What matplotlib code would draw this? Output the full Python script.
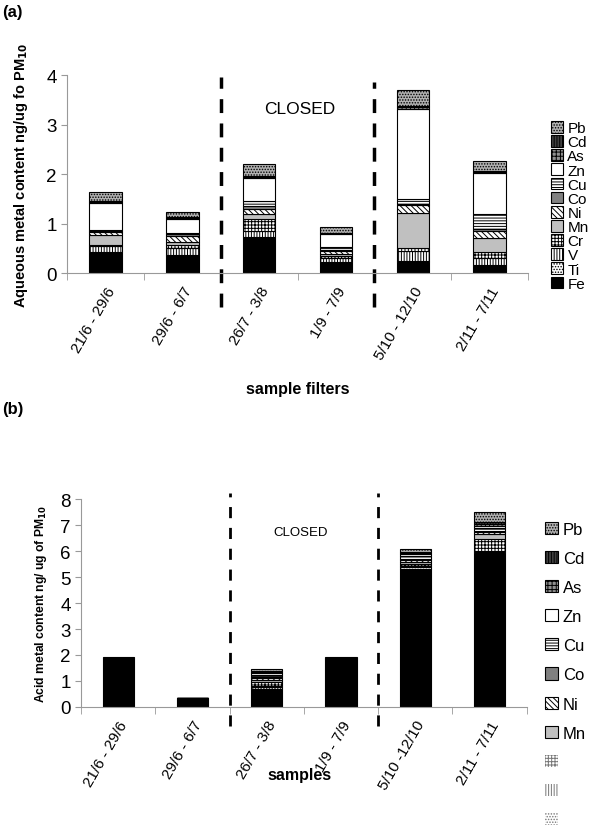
import matplotlib
matplotlib.use('Agg')
import matplotlib.pyplot as plt
from matplotlib.patches import Patch
import numpy as np

plt.rcParams['font.family'] = ['Liberation Sans', 'DejaVu Sans']
plt.rcParams['hatch.linewidth'] = 0.7

# sampling periods
samples = ['21/6 - 29/6', '29/6 - 6/7', '26/7 - 3/8', '1/9 - 7/9', '5/10 - 12/10', '2/11 - 7/11']
samples_b = ['21/6 - 29/6', '29/6 - 6/7', '26/7 - 3/8', '1/9 - 7/9', '5/10 -12/10', '2/11 - 7/11']
metals = ['Fe', 'Ti', 'V', 'Cr', 'Mn', 'Ni', 'Co', 'Cu', 'Zn', 'As', 'Cd', 'Pb']

# (a) aqueous content, ng/ug, one list per metal (bottom -> top of stack)
aq_Fe = [0.42, 0.36, 0.72, 0.22, 0.23, 0.15]
aq_Ti = [0.01, 0.01, 0.01, 0.01, 0.01, 0.01]
aq_V = [0.11, 0.13, 0.12, 0.07, 0.20, 0.15]
aq_Cr = [0.03, 0.07, 0.25, 0.05, 0.07, 0.12]
aq_Mn = [0.19, 0.06, 0.09, 0.03, 0.70, 0.27]
aq_Ni = [0.07, 0.12, 0.11, 0.06, 0.17, 0.15]
aq_Co = [0.02, 0.03, 0.06, 0.03, 0.02, 0.05]
aq_Cu = [0.03, 0.04, 0.09, 0.05, 0.09, 0.30]
aq_Zn = [0.54, 0.28, 0.48, 0.26, 1.83, 0.83]
aq_As = [0.02, 0.02, 0.02, 0.02, 0.03, 0.02]
aq_Cd = [0.02, 0.02, 0.02, 0.02, 0.02, 0.01]
aq_Pb = [0.17, 0.10, 0.24, 0.12, 0.34, 0.21]

# (b) acid content, ng/ug
ac_Fe = [1.90, 0.33, 0.70, 1.83, 5.32, 5.92]
ac_Ti = [0.00, 0.00, 0.05, 0.00, 0.05, 0.05]
ac_V = [0.00, 0.00, 0.05, 0.00, 0.04, 0.05]
ac_Cr = [0.00, 0.00, 0.15, 0.00, 0.10, 0.45]
ac_Mn = [0.00, 0.00, 0.08, 0.00, 0.05, 0.18]
ac_Ni = [0.00, 0.00, 0.08, 0.00, 0.10, 0.08]
ac_Co = [0.00, 0.00, 0.05, 0.00, 0.04, 0.06]
ac_Cu = [0.00, 0.00, 0.07, 0.00, 0.10, 0.08]
ac_Zn = [0.00, 0.00, 0.06, 0.04, 0.08, 0.10]
ac_As = [0.00, 0.00, 0.05, 0.00, 0.05, 0.08]
ac_Cd = [0.00, 0.00, 0.03, 0.00, 0.04, 0.05]
ac_Pb = [0.02, 0.02, 0.10, 0.04, 0.12, 0.40]

aqueous = [aq_Fe, aq_Ti, aq_V, aq_Cr, aq_Mn, aq_Ni, aq_Co, aq_Cu, aq_Zn, aq_As, aq_Cd, aq_Pb]
acid = [ac_Fe, ac_Ti, ac_V, ac_Cr, ac_Mn, ac_Ni, ac_Co, ac_Cu, ac_Zn, ac_As, ac_Cd, ac_Pb]

# excel-like greyscale fills (face, hatch)
styles = {
    'Fe': ('black', None),
    'Ti': ('white', '......'),
    'V': ('white', '||||||'),
    'Cr': ('white', '+++++'),
    'Mn': ('#c0c0c0', None),
    'Ni': ('white', '\\\\\\\\\\\\'),
    'Co': ('#808080', None),
    'Cu': ('white', '------'),
    'Zn': ('white', None),
    'As': ('#909090', '++++'),
    'Cd': ('#404040', '||||||'),
    'Pb': ('#b0b0b0', '......'),
}


def stacked(ax, data, width):
    x = np.arange(len(samples))
    bottom = np.zeros(len(samples))
    for name, vals in zip(metals, data):
        face, hatch = styles[name]
        ax.bar(x, vals, width, bottom=bottom, color=face, hatch=hatch,
               edgecolor='black', linewidth=0.8)
        bottom += np.array(vals)
    return x


def style_axes(ax, labels, ymax, fs):
    ax.set_xlim(-0.5, 5.5)
    ax.set_ylim(0, ymax)
    for s in ['top', 'right']:
        ax.spines[s].set_visible(False)
    for s in ['left', 'bottom']:
        ax.spines[s].set_color('#999999')
        ax.spines[s].set_linewidth(0.8)
    ax.set_xticks(range(len(labels)))
    ax.set_xticklabels(labels, rotation=60, ha='right', rotation_mode='anchor', fontsize=11)
    ax.set_xticks(np.arange(-0.5, 6, 1), minor=True)
    ax.tick_params(axis='x', which='major', length=0, pad=8)
    ax.tick_params(axis='x', which='minor', length=5, color='#999999', direction='out')
    ax.tick_params(axis='y', length=4, color='#999999', labelsize=fs)


fig = plt.figure(figsize=(6, 8.28), dpi=100)

# ---- (a) ----
ax1 = fig.add_axes([0.112, 0.669, 0.768, 0.239])
stacked(ax1, aqueous, 0.42)
style_axes(ax1, samples, 4, 13.5)
ax1.set_yticks([0, 1, 2, 3, 4])
ax1.set_ylabel('Aqueous metal content ng/ug fo PM$_{\\mathbf{10}}$', fontsize=10.5, fontweight='bold', labelpad=12)
xt = ax1.get_xaxis_transform()
ax1.plot([1.5, 1.5], [-0.17, 0.99], 'k--', lw=2.5, dashes=(4, 3), transform=xt, clip_on=False)
ax1.plot([3.5, 3.5], [-0.17, 0.965], 'k--', lw=2.5, dashes=(4, 3), transform=xt, clip_on=False)
ax1.text(2.53, 3.33, 'CLOSED', fontsize=12.5, ha='center', va='center')

h1 = [Patch(facecolor=styles[m][0], hatch=styles[m][1], edgecolor='black', lw=0.8, label=m)
      for m in metals[::-1]]
fig.legend(handles=h1, loc='upper left', bbox_to_anchor=(0.905, 0.862), frameon=False,
           fontsize=11, labelspacing=0.0, handlelength=0.8, handleheight=0.8,
           handletextpad=0.3, borderpad=0)

fig.text(0.003, 0.985, '(a)', fontsize=12, fontweight='bold', va='center')
fig.text(0.497, 0.530, 'sample filters', fontsize=11.5, fontweight='bold', ha='center', va='center')

# ---- (b) ----
ax2 = fig.add_axes([0.135, 0.145, 0.743, 0.251])
stacked(ax2, acid, 0.42)
style_axes(ax2, samples_b, 8, 13.5)
ax2.set_yticks(range(9))
ax2.set_ylabel('Acid metal content ng/ ug of PM$_{\\mathbf{10}}$', fontsize=8.7, fontweight='bold', labelpad=8)
xt2 = ax2.get_xaxis_transform()
ax2.plot([1.5, 1.5], [-0.09, 1.03], 'k--', lw=2, dashes=(4, 3.5), transform=xt2, clip_on=False)
ax2.plot([3.5, 3.5], [-0.09, 1.03], 'k--', lw=2, dashes=(4, 3.5), transform=xt2, clip_on=False)
ax2.text(2.45, 6.73, 'CLOSED', fontsize=9.5, ha='center', va='center')

h2 = []
for m in metals[::-1][:8]:
    h2.append(Patch(facecolor=styles[m][0], hatch=styles[m][1], edgecolor='black', lw=0.8, label=m))
for m in ['Cr', 'V', 'Ti']:
    h2.append(Patch(facecolor='white', hatch=styles[m][1], edgecolor='#777777', lw=0, label=' '))
fig.legend(handles=h2, loc='upper left', bbox_to_anchor=(0.895, 0.379), frameon=False,
           fontsize=12, labelspacing=0.85, handlelength=0.75, handleheight=0.75,
           handletextpad=0.3, borderpad=0)

fig.text(0.003, 0.505, '(b)', fontsize=12, fontweight='bold', va='center')
fig.text(0.5, 0.064, 'samples', fontsize=11.5, fontweight='bold', ha='center', va='center')

fig.savefig('out.png', dpi=100)
